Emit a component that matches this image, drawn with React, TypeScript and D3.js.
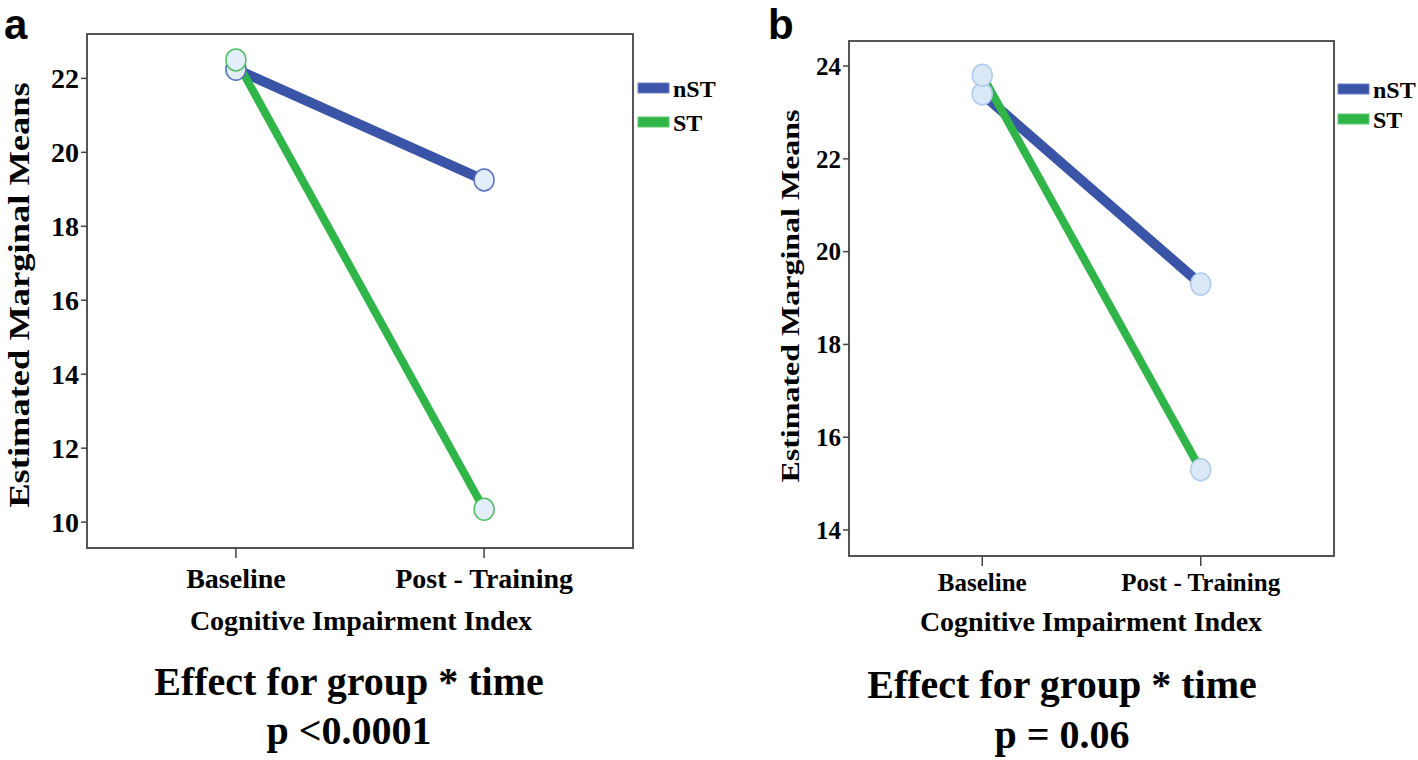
import * as d3 from 'd3';

// categories and series
const timepoints = ['Baseline', 'Post - Training'];
const groups = ['nST', 'ST'];
const groupColors = ['#3a55a8', '#2fb548'];

// panel a: Cognitive Impairment Index, p <0.0001
const aNST = [22.25, 19.25];
const aST = [22.5, 10.35];
const aTicks = [10, 12, 14, 16, 18, 20, 22];
const aDomain = [9.3, 23.2];

// panel b: Cognitive Impairment Index, p = 0.06
const bNST = [23.4, 19.3];
const bST = [23.8, 15.3];
const bTicks = [14, 16, 18, 20, 22, 24];
const bDomain = [13.44, 24.54];

const serif = '"Liberation Serif", "Times New Roman", serif';
const sans = '"Liberation Sans", Arial, sans-serif';

type PanelProps = {
  letter: string;
  series: number[][];
  ticks: number[];
  domain: number[];
  frame: { left: number; right: number; top: number; bottom: number };
  padding: number;
  tickFont: number;
  yLabel: { x: number; y: number; size: number };
  letterPos: [number, number];
  xLabelY: number;
  titleY: number;
  titleX: number;
  effect: string[];
  effectX: number;
  effectY: [number, number];
  legendX: number;
  legendY: [number, number];
  markerStyle: 'group' | 'plain';
};

function Panel(p: PanelProps) {
  const { frame } = p;
  const x = d3.scalePoint<string>().domain(timepoints).range([frame.left, frame.right]).padding(p.padding);
  const y = d3.scaleLinear().domain(p.domain).range([frame.bottom, frame.top]);
  const line = d3.line<number>().x((_, i) => x(timepoints[i]) as number).y((v) => y(v));

  return (
    <g>
      <text x={p.letterPos[0]} y={p.letterPos[1]} fontFamily={sans} fontWeight="bold" fontSize={42} fill="#000">
        {p.letter}
      </text>
      <rect x={frame.left} y={frame.top} width={frame.right - frame.left} height={frame.bottom - frame.top}
        fill="#fff" stroke="#555" strokeWidth={2} />
      {p.ticks.map((t) => (
        <g key={t}>
          <line x1={frame.left - 6} x2={frame.left} y1={y(t)} y2={y(t)} stroke="#444" strokeWidth={1.5} />
          <text x={frame.left - 8} y={y(t)} dy="0.35em" textAnchor="end" fontFamily={serif} fontWeight="bold"
            fontSize={p.tickFont} fill="#000">{t}</text>
        </g>
      ))}
      {timepoints.map((tp) => (
        <g key={tp}>
          <line x1={x(tp)} x2={x(tp)} y1={frame.bottom} y2={frame.bottom + 10} stroke="#444" strokeWidth={1.5} />
          <text x={x(tp)} y={p.xLabelY} textAnchor="middle" fontFamily={serif} fontWeight="bold"
            fontSize={p.tickFont} fill="#000">{tp}</text>
        </g>
      ))}
      <text x={p.titleX} y={p.titleY} textAnchor="middle" fontFamily={serif} fontWeight="bold" fontSize={28} fill="#000">
        Cognitive Impairment Index
      </text>
      {/* rotated label is stretched along its length like in the source figure */}
      <text transform={`translate(${p.yLabel.x},${p.yLabel.y}) rotate(-90) scale(1,0.82)`} textAnchor="middle"
        fontFamily={serif} fontWeight="bold" fontSize={p.yLabel.size} fill="#000">
        Estimated Marginal Means
      </text>
      {p.series.map((s, gi) => (
        <path key={groups[gi]} d={line(s) ?? ''} fill="none" stroke={groupColors[gi]} strokeWidth={gi === 0 ? 10 : 8}
          strokeLinecap="butt" />
      ))}
      {p.series.map((s, gi) =>
        s.map((v, i) => (
          <ellipse key={groups[gi] + i} cx={x(timepoints[i])} cy={y(v)} rx={10} ry={11}
            fill={p.markerStyle === 'group' ? '#e4eefa' : '#dae8f8'}
            stroke={p.markerStyle === 'group' ? (gi === 0 ? '#5a70c4' : '#4cc05e') : '#aecbee'}
            strokeWidth={1.5} />
        ))
      )}
      {groups.map((g, gi) => (
        <g key={g}>
          <rect x={p.legendX} y={p.legendY[gi] - 5} width={31} height={10} fill={groupColors[gi]}
            stroke={gi === 0 ? '#6d80c8' : '#62c872'} strokeWidth={1} />
          <text x={p.legendX + 35} y={p.legendY[gi] + 9} fontFamily={serif} fontWeight="bold" fontSize={24} fill="#000">
            {g}
          </text>
        </g>
      ))}
      {p.effect.map((t, i) => (
        <text key={t} x={p.effectX} y={p.effectY[i]} textAnchor="middle" fontFamily={serif} fontWeight="bold"
          fontSize={40} fill="#000">{t}</text>
      ))}
    </g>
  );
}

export default function App() {
  return (
    <svg width={1418} height={760} style={{ position: 'absolute', left: 0, top: 0, background: '#fff' }}>
      <rect width={1418} height={760} fill="#fff" />
      <Panel
        letter="a"
        series={[aNST, aST]}
        ticks={aTicks}
        domain={aDomain}
        frame={{ left: 87, right: 633, top: 34, bottom: 548 }}
        padding={0.6}
        tickFont={28}
        yLabel={{ x: 29, y: 295, size: 36.5 }}
        letterPos={[4, 38.5]}
        xLabelY={588}
        titleY={630}
        titleX={361}
        effect={['Effect for group * time', 'p <0.0001']}
        effectX={349}
        effectY={[695, 744]}
        legendX={638}
        legendY={[88, 122]}
        markerStyle="group"
      />
      <Panel
        letter="b"
        series={[bNST, bST]}
        ticks={bTicks}
        domain={bDomain}
        frame={{ left: 849, right: 1334, top: 41, bottom: 556 }}
        padding={0.61}
        tickFont={25}
        yLabel={{ x: 799, y: 296, size: 32 }}
        letterPos={[768, 38.5]}
        xLabelY={591}
        titleY={631}
        titleX={1091}
        effect={['Effect for group * time', 'p = 0.06']}
        effectX={1062}
        effectY={[698, 748]}
        legendX={1338}
        legendY={[89, 119]}
        markerStyle="plain"
      />
    </svg>
  );
}
